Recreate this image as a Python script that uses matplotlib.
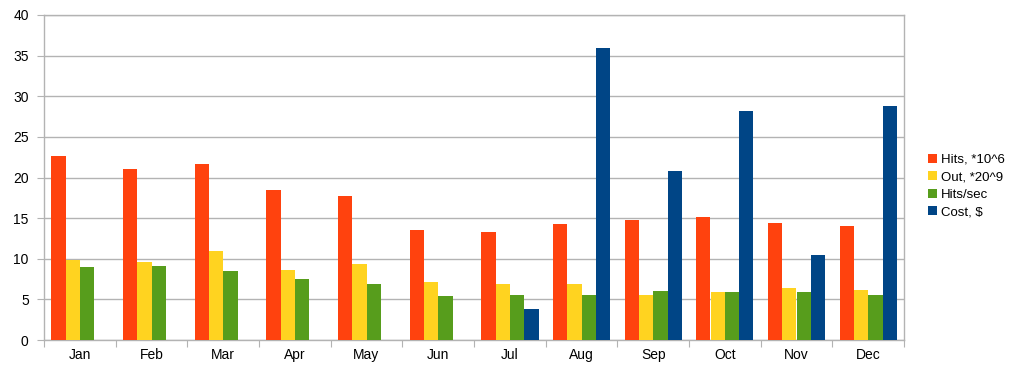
import numpy as np
import matplotlib
matplotlib.use('Agg')
import matplotlib.pyplot as plt

plt.rcParams['font.family'] = ['Liberation Sans', 'DejaVu Sans']

# Monthly values
months = ['Jan', 'Feb', 'Mar', 'Apr', 'May', 'Jun',
          'Jul', 'Aug', 'Sep', 'Oct', 'Nov', 'Dec']
hits = [22.7, 21.05, 21.65, 18.45, 17.7, 13.55, 13.25, 14.3, 14.75, 15.15, 14.45, 14.0]
out = [9.9, 9.55, 10.95, 8.6, 9.35, 7.15, 6.95, 6.9, 5.6, 5.85, 6.4, 6.2]
hits_sec = [8.95, 9.15, 8.5, 7.5, 6.95, 5.45, 5.5, 5.6, 6.0, 5.9, 5.85, 5.5]
cost = [np.nan, np.nan, np.nan, np.nan, np.nan, np.nan, 3.8, 35.95, 20.85, 28.2, 10.45, 28.85]

series = [('Hits, *10^6', hits, '#ff420e'),
          ('Out, *20^9', out, '#ffd320'),
          ('Hits/sec', hits_sec, '#579d1c'),
          ('Cost, $', cost, '#004586')]

fig = plt.figure(figsize=(10.16, 3.72), dpi=100)
ax = fig.add_axes([44 / 1016, 32 / 372, 860 / 1016, 325 / 372])

x = np.arange(len(months))
w = 0.2
for k, (name, vals, color) in enumerate(series):
    ax.bar(x + 0.1 + k * w, vals, width=w, align='edge', color=color, label=name, zorder=3)

ax.set_xlim(0, 12)
ax.set_ylim(0, 40)
ax.set_yticks(range(0, 41, 5))
ax.grid(axis='y', color='#b3b3b3', linewidth=1, zorder=0)

# category boundaries get the tick marks, labels sit in the middle
ax.set_xticks(np.arange(0, 13), [])
ax.set_xticks(x + 0.5, months, minor=True)
ax.tick_params(axis='x', which='major', length=5, color='#b3b3b3')
ax.tick_params(axis='x', which='minor', length=0, pad=6, labelsize=10)
ax.tick_params(axis='y', length=5, color='#b3b3b3', labelsize=10, pad=6)

for s in ax.spines.values():
    s.set_color('#b3b3b3')
    s.set_linewidth(1)

fig.legend(*ax.get_legend_handles_labels(), loc='center left',
           bbox_to_anchor=(916 / 1016, 0.5), frameon=False,
           handlelength=0.7, handleheight=0.7, handletextpad=0.3,
           labelspacing=0.4, fontsize=9.5)

fig.savefig('out.png', dpi=100)
